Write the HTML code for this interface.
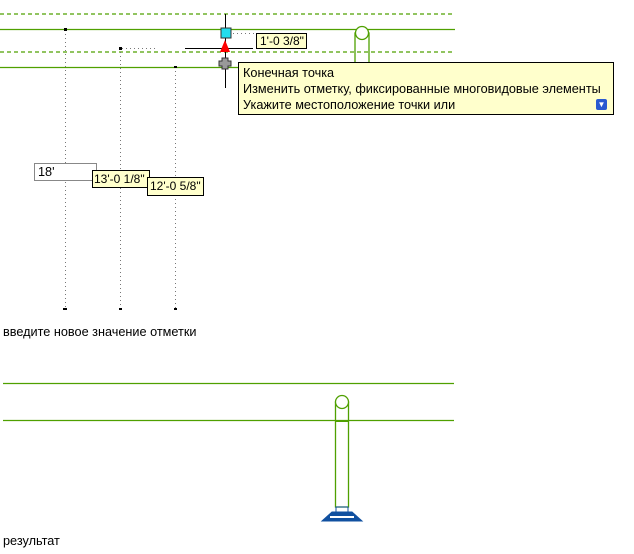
<!DOCTYPE html>
<html><head><style>
body{margin:0;width:634px;height:554px;background:#fff;position:relative;overflow:hidden;font-family:"Liberation Sans",sans-serif;}
.t{position:absolute;font-size:12.7px;color:#000;white-space:nowrap}
.box{position:absolute;background:#ffffcc;border:1px solid #000;font-size:12.7px;line-height:15px;padding:0 3px;box-sizing:border-box;white-space:nowrap}
</style></head><body>
<svg width="634" height="554" style="position:absolute;left:0;top:0">
<g stroke="#4fa000" stroke-width="1.3" fill="none">
<line x1="0" y1="14" x2="455" y2="14" stroke-dasharray="4,3"/>
<line x1="0" y1="29.5" x2="455" y2="29.5"/>
<line x1="0" y1="52" x2="455" y2="52" stroke-dasharray="4,3"/>
<line x1="0" y1="67.5" x2="455" y2="67.5"/>
<rect x="355" y="33" width="14" height="40"/>
<circle cx="362" cy="33" r="6.5" fill="#fff"/>
<line x1="3" y1="383.5" x2="454" y2="383.5"/>
<line x1="3" y1="420.5" x2="454" y2="420.5"/>
<rect x="335.5" y="402" width="13" height="105"/>
<line x1="335" y1="421" x2="349" y2="421" stroke-width="2"/>
<circle cx="342" cy="402" r="6.5" fill="#fff"/>
</g>
<g stroke="#777" stroke-width="1" stroke-dasharray="1,3">
<line x1="65.5" y1="30" x2="65.5" y2="310"/>
<line x1="120.5" y1="48" x2="120.5" y2="310"/>
<line x1="175.5" y1="67" x2="175.5" y2="310"/>
<line x1="122" y1="48.5" x2="158" y2="48.5"/>
<line x1="233" y1="33.5" x2="256" y2="33.5"/>
</g>
<g fill="#000"><rect x="64" y="28" width="3" height="3"/><rect x="119" y="47" width="3" height="3"/><rect x="174" y="66" width="3" height="2"/>
<rect x="63" y="308" width="4" height="2"/><rect x="119" y="308" width="3" height="2"/><rect x="174" y="308" width="3" height="2"/></g>
<line x1="225.5" y1="14" x2="225.5" y2="88" stroke="#000"/>
<line x1="185" y1="48.5" x2="253" y2="48.5" stroke="#000"/>
<rect x="221" y="28" width="10" height="10" fill="#22ddee" stroke="#333"/>
<polygon points="225,40 230,52 220,52" fill="#f00"/>
<path d="M222 58h6v3h3v5h-3v3h-6v-3h-3v-5h3z" fill="#999" stroke="#333"/>
<g fill="#1050a0" stroke="#1050a0">
<rect x="336" y="507" width="12" height="6" fill="none"/>
<path d="M322 521 L332 512 L352 512 L362 521 Z"/>
</g>
<rect x="330" y="516" width="24" height="2" fill="#fff"/>
</svg>
<div class="box" style="left:256px;top:33px;width:51px;height:16px;font-size:12px">1'-0 3/8"</div>
<div class="box" style="left:238px;top:62px;width:376px;height:53px;padding:2px 4px;line-height:16px">Конечная точка<br>Изменить отметку, фиксированные многовидовые элементы<br>Укажите местоположение точки или
<div style="position:absolute;right:6px;bottom:4px;width:11px;height:11px;background:#2a5ad0;border-radius:2px;color:#fff;font-size:8px;line-height:11px;text-align:center">▼</div></div>
<div class="box" style="left:34px;top:163px;width:63px;height:18px;background:#fff;border-color:#888;line-height:17px">18'</div>
<div class="box" style="left:92px;top:170px;width:58px;height:18px;line-height:17px;padding:0 1px;font-size:12px">13'-0 1/8"</div>
<div class="box" style="left:147px;top:177px;width:57px;height:19px;line-height:17px;padding:0 2px;font-size:12px">12'-0 5/8"</div>
<div class="t" style="left:3px;top:325px">введите новое значение отметки</div>
<div class="t" style="left:3px;top:534px">результат</div>
</body></html>
